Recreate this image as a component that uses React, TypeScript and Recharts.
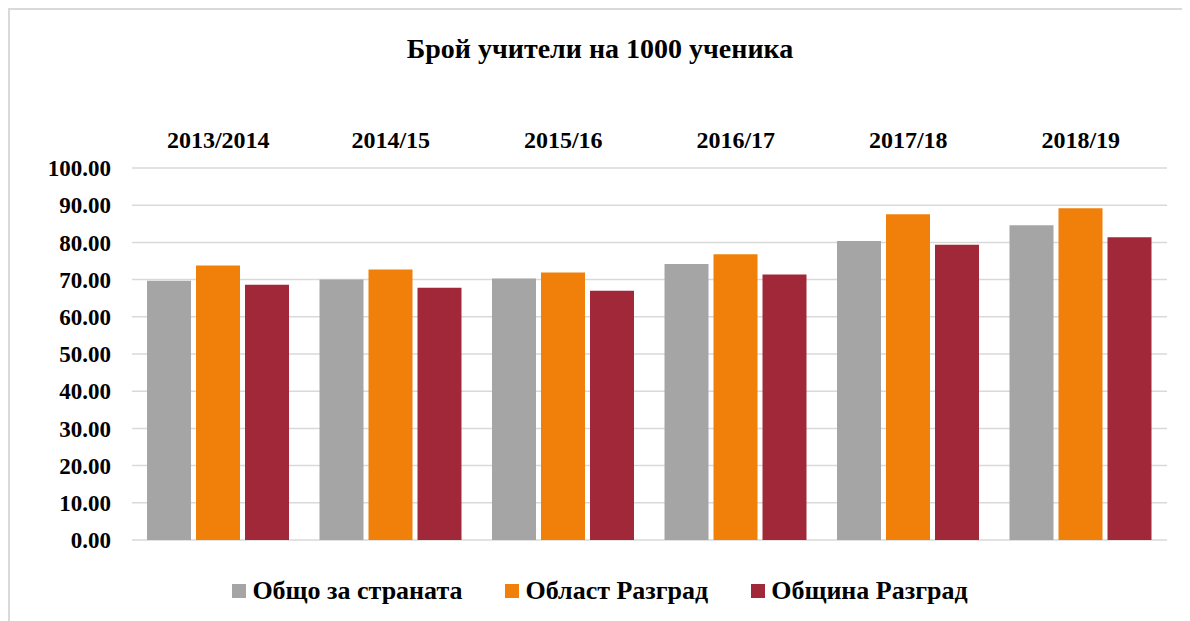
import { BarChart, Bar, XAxis, YAxis, CartesianGrid, Legend } from 'recharts'

const years = ['2013/2014', '2014/15', '2015/16', '2016/17', '2017/18', '2018/19']
const country = [69.7, 70.0, 70.3, 74.2, 80.4, 84.6]
const region = [73.8, 72.7, 71.9, 76.8, 87.6, 89.2]
const municipality = [68.6, 67.8, 67.0, 71.4, 79.4, 81.4]
const yTicks = [0, 10, 20, 30, 40, 50, 60, 70, 80, 90, 100]

const seriesNames = ['Общо за страната', 'Област Разград', 'Община Разград']
const colors = ['#A5A5A5', '#F0800A', '#A12838']

const data = years.map((year, i) => ({
  year,
  country: country[i],
  region: region[i],
  municipality: municipality[i],
}))

const font = '"Liberation Serif", "Times New Roman", serif'

function LegendContent() {
  return (
    <div style={{ display: 'flex', justifyContent: 'center', alignItems: 'center', fontFamily: font, fontWeight: 'bold', fontSize: 26, lineHeight: 1, color: '#000' }}>
      {seriesNames.map((name, i) => (
        <div key={name} style={{ display: 'flex', alignItems: 'center', marginRight: i < 2 ? 43 : 0 }}>
          <span style={{ width: 14, height: 14, background: colors[i], display: 'inline-block', marginRight: 6 }} />
          <span>{name}</span>
        </div>
      ))}
    </div>
  )
}

export default function App() {
  return (
    <div
      style={{
        position: 'relative',
        width: 1182,
        height: 613,
        borderTop: '2px solid #d9d9d9',
        borderLeft: '2px solid #d9d9d9',
        boxSizing: 'border-box',
        background: '#fff',
      }}
    >
      <div
        style={{
          position: 'absolute',
          top: 25,
          left: 0,
          width: 1180,
          textAlign: 'center',
          fontFamily: font,
          fontWeight: 'bold',
          fontSize: 28,
          lineHeight: 1,
        }}
      >
        Брой учители на 1000 ученика
      </div>
      <BarChart
        width={1180}
        height={611}
        data={data}
        margin={{ top: 98, right: 23, bottom: 55, left: 0 }}
        barSize={44}
        barGap={5}
      >
        <CartesianGrid vertical={false} stroke="#d9d9d9" strokeWidth={1.5} />
        <XAxis
          dataKey="year"
          orientation="top"
          height={60}
          axisLine={false}
          tickLine={false}
          tickMargin={14}
          tick={{ fill: '#000', fontFamily: font, fontWeight: 'bold', fontSize: 24 }}
        />
        <YAxis
          width={122}
          domain={[0, 100]}
          ticks={yTicks}
          interval={0}
          axisLine={false}
          tickLine={false}
          tickMargin={15}
          tickFormatter={(v: number) => v.toFixed(2)}
          tick={{ fill: '#000', fontFamily: font, fontWeight: 'bold', fontSize: 23 }}
        />
        <Legend content={LegendContent} wrapperStyle={{ top: 568, left: 0, width: 1180 }} />
        <Bar dataKey="country" name={seriesNames[0]} fill={colors[0]} isAnimationActive={false} />
        <Bar dataKey="region" name={seriesNames[1]} fill={colors[1]} isAnimationActive={false} />
        <Bar dataKey="municipality" name={seriesNames[2]} fill={colors[2]} isAnimationActive={false} />
      </BarChart>
    </div>
  )
}
